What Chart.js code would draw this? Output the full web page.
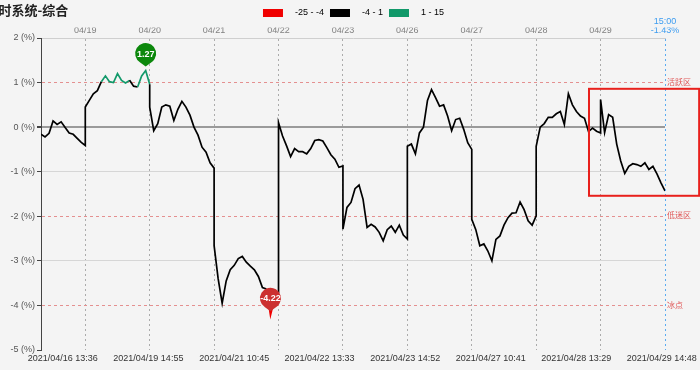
<!DOCTYPE html>
<html>
<head>
<meta charset="utf-8">
<script src="https://cdn.jsdelivr.net/npm/chart.js@4.4.0/dist/chart.umd.min.js"></script>
<style>
  html, body { margin: 0; padding: 0; background: #f4f4f4; }
</style>
</head>
<body>
<canvas id="myChart" width="700" height="370"></canvas>
<script>
const chart_title = "实时系统-综合"
const trade_days = ["04/16", "04/19", "04/20", "04/21", "04/22", "04/23", "04/26", "04/27", "04/28", "04/29"]
const first_time = "10:45"
const close_time = "15:00"
const step_minutes = 15

// 15 minute samples, % values
const d0416 = [-0.16, -0.22, -0.14, 0.14, 0.06, 0.12, -0.01, -0.13, -0.16, -0.25, -0.34, -0.41]
const d0419 = [0.45, 0.60, 0.75, 0.82, 1.02, 1.15, 1.02, 1.00, 1.20, 1.05, 0.99, 1.05, 0.92, 0.90, 1.15, 1.27, 0.96]
const d0420 = [0.45, -0.08, 0.08, 0.45, 0.50, 0.47, 0.15, 0.40, 0.58, 0.45, 0.27, 0.00, -0.18, -0.45, -0.56, -0.80, -0.92]
const d0421 = [-2.66, -3.40, -3.95, -3.45, -3.20, -3.10, -2.95, -2.90, -3.03, -3.12, -3.20, -3.35, -3.60, -3.63, -4.22, -3.85, -3.71]
const d0422 = [0.10, -0.20, -0.42, -0.66, -0.48, -0.55, -0.55, -0.60, -0.48, -0.30, -0.28, -0.31, -0.46, -0.62, -0.72, -0.90, -0.87]
const d0423 = [-2.29, -1.80, -1.69, -1.38, -1.30, -1.62, -2.25, -2.18, -2.24, -2.36, -2.55, -2.30, -2.22, -2.36, -2.20, -2.42, -2.51]
const d0426 = [-0.43, -0.38, -0.60, -0.13, 0.00, 0.60, 0.84, 0.66, 0.47, 0.50, 0.25, -0.08, 0.17, 0.20, -0.05, -0.35, -0.50]
const d0427 = [-2.07, -2.30, -2.66, -2.62, -2.78, -3.00, -2.52, -2.44, -2.20, -2.03, -1.93, -1.92, -1.68, -1.85, -2.10, -2.20, -1.99]
const d0428 = [-0.43, 0.00, 0.08, 0.22, 0.22, 0.30, 0.35, 0.06, 0.75, 0.50, 0.35, 0.25, 0.20, -0.10, -0.02, -0.09, -0.13]
const d0429 = [0.62, -0.12, 0.28, 0.22, -0.38, -0.76, -1.04, -0.88, -0.82, -0.84, -0.88, -0.80, -0.95, -0.88, -1.05, -1.25, -1.43]
const day_values = [d0416, d0419, d0420, d0421, d0422, d0423, d0426, d0427, d0428, d0429]

const legend_ranges = ["-25 - -4", "-4 - 1", "1 - 15"]
const legend_colors = ["#f00000", "#000000", "#11996a"]
const y_ticks = [2, 1, 0, -1, -2, -3, -4, -5]
const zone_levels = [1, -2, -4]
const zone_names = ["活跃区", "低迷区", "冰点"]
const bottom_labels = ["2021/04/16 13:36", "2021/04/19 14:55", "2021/04/21 10:45", "2021/04/22 13:33",
                       "2021/04/23 14:52", "2021/04/27 10:41", "2021/04/28 13:29", "2021/04/29 14:48"]
// highlighted area, axis units (day index / %)
const focus_x = [8.82, 10.53]
const focus_y = [0.86, -1.54]

// trading minutes since 9:30 (lunch break removed), one day = 240
function session_minutes(hm){
    const [h, m] = hm.split(":").map(Number)
    const t = h * 60 + m
    return t <= 690 ? t - 570 : t - 780 + 120
}
function stamp_to_x(stamp){
    const [date, hm] = stamp.split(" ")
    return trade_days.indexOf(date.slice(5)) + session_minutes(hm) / 240
}

const points = []
day_values.forEach((arr, d) => {
    const start = d === 0 ? session_minutes(first_time) : 0
    arr.forEach((v, j) => points.push({x: d + (start + j * step_minutes) / 240, y: v}))
})
const x_min = points[0].x
const x_max = trade_days.length
const last_value = points[points.length - 1].y
const top_ticks = trade_days.map((d, i) => i).filter(i => i > 0).concat([x_max])
const bottom_ticks = bottom_labels.map(stamp_to_x)

function draw_pin(ctx, px, py, text, color){
    const cy = py - 17, r = 10.5
    ctx.save()
    ctx.fillStyle = color
    ctx.beginPath()
    ctx.arc(px, cy, r, Math.PI / 2 + 0.55, Math.PI / 2 - 0.55)
    ctx.lineTo(px, py - 4)
    ctx.closePath()
    ctx.fill()
    ctx.fillStyle = "#fff"
    ctx.font = 'bold 9px "Liberation Sans", Arial, sans-serif'
    ctx.textAlign = "center"
    ctx.textBaseline = "middle"
    ctx.fillText(text, px, cy + 0.5)
    ctx.restore()
}

const extras = {
    id: "extras",
    afterDatasetsDraw(chart){
        const {ctx, scales: {x, y}} = chart
        let hi = points[0], lo = points[0]
        points.forEach(p => { if (p.y > hi.y) hi = p; if (p.y < lo.y) lo = p })

        ctx.save()
        ctx.strokeStyle = "#e8201c"
        ctx.lineWidth = 2
        const bx = x.getPixelForValue(focus_x[0]), by = y.getPixelForValue(focus_y[0])
        ctx.strokeRect(bx, by, x.getPixelForValue(focus_x[1]) - bx, y.getPixelForValue(focus_y[1]) - by)
        ctx.restore()

        draw_pin(ctx, x.getPixelForValue(hi.x), y.getPixelForValue(hi.y), hi.y.toFixed(2), "#0c880c")
        draw_pin(ctx, x.getPixelForValue(lo.x), y.getPixelForValue(lo.y), lo.y.toFixed(2), "#cc3030")
    },
    afterDraw(chart){
        const ctx = chart.ctx
        ctx.save()
        ctx.fillStyle = "#222"
        ctx.font = 'bold 13px "Noto Sans CJK SC", sans-serif'
        ctx.textBaseline = "middle"
        ctx.fillText(chart_title, -14.5, 10)
        // close time above the last value label
        ctx.fillStyle = "#3d9cf0"
        ctx.font = '9px "Liberation Sans", Arial, sans-serif'
        ctx.textAlign = "center"
        ctx.fillText(close_time, chart.scales.x.getPixelForValue(x_max), 22)
        ctx.restore()
    }
}

Chart.defaults.font.family = '"Liberation Sans", Arial, "Noto Sans CJK SC", sans-serif'
Chart.defaults.font.size = 9

const grid_color = v => {
    if (zone_levels.includes(v)) return "#e49090"
    if (v === 0) return "#9a9a9a"
    if (v === -1 || v === -3) return "#d6d6d6"
    return "rgba(0,0,0,0)"
}

new Chart(document.getElementById("myChart").getContext("2d"), {
    type: "line",
    data: {
        datasets: [{
            label: "综合",
            data: points,
            borderColor: legend_colors[1],
            borderWidth: 1.7,
            pointRadius: 0,
            tension: 0,
            segment: {
                borderColor: c => {
                    const a = c.p0.parsed.y, b = c.p1.parsed.y
                    if (Math.min(a, b) <= -4) return legend_colors[0]
                    if ((a + b) / 2 >= 1) return legend_colors[2]
                    return legend_colors[1]
                }
            }
        }]
    },
    options: {
        responsive: false,
        animation: false,
        devicePixelRatio: 1,
        layout: { padding: { top: 2.5, left: 7 } },
        plugins: {
            title: { display: false },
            tooltip: { enabled: false },
            legend: {
                position: "top",
                labels: {
                    boxWidth: 20,
                    boxHeight: 8,
                    padding: 6,
                    color: "#333",
                    font: { size: 9 },
                    useBorderRadius: true,
                    borderRadius: 2,
                    generateLabels: () => legend_ranges.map((t, i) => ({
                        text: "   " + t,
                        fillStyle: legend_colors[i],
                        strokeStyle: legend_colors[i],
                        lineWidth: 0,
                        hidden: false,
                        datasetIndex: 0
                    }))
                }
            }
        },
        scales: {
            x: {
                type: "linear",
                position: "top",
                min: x_min,
                max: x_max,
                afterBuildTicks: s => { s.ticks = top_ticks.map(v => ({value: v})) },
                afterFit: s => { s.height = 10.5 },
                ticks: {
                    autoSkip: false,
                    maxRotation: 0,
                    padding: 2,
                    color: c => c.tick && c.tick.value === x_max ? "#3d9cf0" : "#808080",
                    callback: v => v === x_max ? last_value.toFixed(2) + "%" : trade_days[v]
                },
                grid: {
                    drawTicks: false,
                    color: c => c.tick && c.tick.value === x_max ? "#5aaaf0" : "#ababab"
                },
                border: {
                    color: "#cfcfcf",
                    dash: c => c.tick ? [2, 3] : []
                }
            },
            x2: {
                type: "linear",
                position: "bottom",
                min: x_min,
                max: x_max,
                afterBuildTicks: s => { s.ticks = bottom_ticks.map(v => ({value: v})) },
                afterFit: s => { s.height = 20 },
                ticks: {
                    autoSkip: false,
                    maxRotation: 0,
                    padding: 3,
                    color: "#333",
                    callback: (v, i) => bottom_labels[i]
                },
                grid: { display: false, drawTicks: false },
                border: { display: false }
            },
            y: {
                position: "left",
                min: -5,
                max: 2,
                afterBuildTicks: s => { s.ticks = y_ticks.map(v => ({value: v})) },
                afterFit: s => { s.width = 34 },
                ticks: {
                    padding: 2,
                    color: "#555",
                    callback: v => v + " (%)"
                },
                grid: {
                    color: c => grid_color(c.tick ? c.tick.value : null),
                    lineWidth: c => c.tick && c.tick.value === 0 ? 2 : 1,
                    tickColor: "#444",
                    tickLength: 4
                },
                border: {
                    color: "#444",
                    width: 1,
                    dash: c => c.tick && zone_levels.includes(c.tick.value) ? [3, 3] : []
                }
            },
            y2: {
                position: "right",
                min: -5,
                max: 2,
                afterBuildTicks: s => { s.ticks = zone_levels.map(v => ({value: v})) },
                afterFit: s => { s.width = 34 },
                ticks: {
                    padding: 2,
                    color: "#e05a5a",
                    font: { size: 8 },
                    callback: v => zone_names[zone_levels.indexOf(v)]
                },
                grid: { display: false, drawTicks: false },
                border: { display: false }
            }
        }
    },
    plugins: [extras]
})
</script>
</body>
</html>
